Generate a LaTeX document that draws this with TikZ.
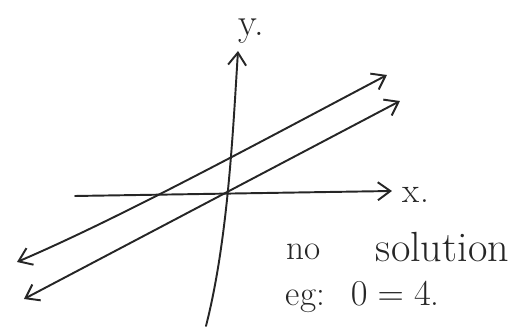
\documentclass[tikz,border=0pt]{standalone}
\usetikzlibrary{arrows.meta}

\begin{document}
\begin{tikzpicture}[x=0.02cm,y=-0.02cm,>={Straight Barb[length=2.5mm,width=3.6mm]},line cap=round,line width=1.1pt,black!85,font=\fontsize{20}{24}\selectfont]
\useasboundingbox (0,0) rectangle (529,330);
% axes
\coordinate (xl) at (75,196);
\coordinate (xr) at (392,191);
\coordinate (yb) at (206,326);
\coordinate (yt) at (238,51);
\draw[->] (xl) -- (xr);
\draw[->] (yb) .. controls (228,240) and (233,130) .. (yt);
% the two parallel lines
\coordinate (al) at (17,262);
\coordinate (ar) at (387,75);
\coordinate (bl) at (24,299);
\coordinate (br) at (400,101);
\draw[<->] (al) .. controls (120,218) and (260,142) .. (ar);
\draw[<->] (bl) -- (br);
% labels
\node[anchor=base west,inner sep=0,font=\fontsize{22}{26}\selectfont] (ylab) at (238,36) {y.};
\node[anchor=base west,inner sep=0] (xlab) at (402,203) {x.};
\node[anchor=base west,inner sep=0] (no) at (286,260) {no};
\node[anchor=base west,inner sep=0,font=\fontsize{24}{28}\selectfont] (sol) at (375,262) {solution};
\node[anchor=base west,inner sep=0] (eg) at (285,306) {eg:};
\node[anchor=base west,inner sep=0] (eq) at (350,306) {$0=4$.};
\end{tikzpicture}
\end{document}
